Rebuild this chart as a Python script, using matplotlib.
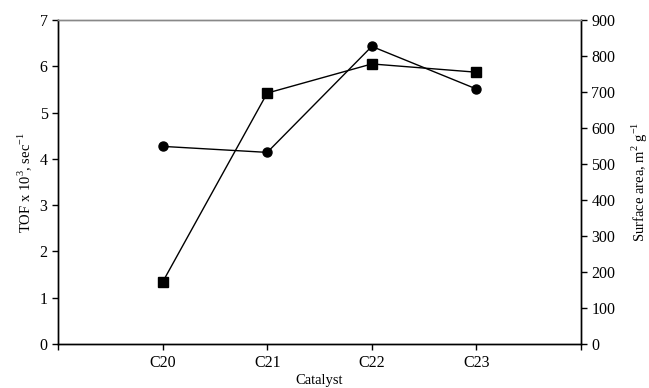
import matplotlib
matplotlib.use("Agg")
import matplotlib.pyplot as plt

# data
catalysts = ["C20", "C21", "C22", "C23"]
tof = [4.27, 4.14, 6.43, 5.51]            # TOF x 10^3, sec^-1 (circles)
surface_area = [172, 697, 778, 755]       # m2 g-1 (squares)

plt.rcParams["font.family"] = ["Liberation Serif", "DejaVu Serif"]
plt.rcParams["mathtext.fontset"] = "custom"
plt.rcParams["mathtext.rm"] = "Liberation Serif"

x = list(range(1, len(catalysts) + 1))

fig = plt.figure(figsize=(6.49, 3.88), dpi=100)
ax = fig.add_axes([0.0894, 0.1134, 0.8058, 0.8350])
ax2 = ax.twinx()

ax.plot(x, tof, color="black", lw=1, marker="o", ms=6.5, zorder=3)
ax2.plot(x, surface_area, color="black", lw=1, marker="s", ms=6.5, zorder=3)

ax.set_xlim(0, 5)
ax.set_ylim(0, 7)
ax2.set_ylim(0, 900)
ax.set_xticks(range(0, 6))
ax.set_xticklabels([""] + catalysts + [""])
ax.set_yticks(range(0, 8))
ax2.set_yticks(range(0, 901, 100))

for a in (ax, ax2):
    a.tick_params(direction="out", length=4, width=1, labelsize=11.5, color="black")
    for s in a.spines.values():
        s.set_linewidth(1)
ax.tick_params(axis="x", pad=4)
ax.spines["top"].set_color("#888888")
ax2.spines["top"].set_color("#888888")
ax2.spines["right"].set_color("black")

ax.set_xlabel("Catalyst", fontsize=10.5, labelpad=2)
ax.set_ylabel("TOF x 10$^3$, sec$^{-1}$", fontsize=10.5, labelpad=4)
ax2.set_ylabel("Surface area, m$^2$ g$^{-1}$", fontsize=10.5, labelpad=10)

fig.savefig("out.png", dpi=100)
